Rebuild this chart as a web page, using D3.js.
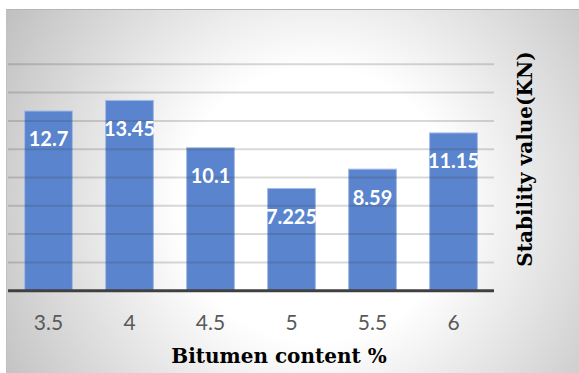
<!DOCTYPE html>
<html>
<head>
<meta charset="utf-8">
<script src="https://cdn.jsdelivr.net/npm/d3@7"></script>
<style>
  html, body { margin: 0; padding: 0; background: #ffffff; }
  svg { display: block; }
</style>
</head>
<body>
<script>
// Marshall stability against bitumen content
const categories = ["3.5", "4", "4.5", "5", "5.5", "6"];
const stability = [12.7, 13.45, 10.1, 7.225, 8.59, 11.15];
const labels = ["12.7", "13.45", "10.1", "7.225", "8.59", "11.15"];
const yDomain = [0, 16];
const xTitle = "Bitumen content %";
const yTitle = "Stability value(KN)";

const W = 579, H = 373;
const svg = d3.select("body").append("svg").attr("width", W).attr("height", H);

// chart area with soft radial shading
const defs = svg.append("defs");
const grad = defs.append("radialGradient")
  .attr("id", "bg")
  .attr("gradientUnits", "userSpaceOnUse")
  .attr("cx", 316).attr("cy", 205).attr("r", 380);
grad.append("stop").attr("offset", 0).attr("stop-color", "#ffffff");
grad.append("stop").attr("offset", 0.36).attr("stop-color", "#ffffff");
grad.append("stop").attr("offset", 1).attr("stop-color", "#bcbcbc");

svg.append("rect")
  .attr("x", 6).attr("y", 9).attr("width", W - 6).attr("height", H - 9)
  .attr("fill", "url(#bg)");
svg.append("line")
  .attr("x1", 6).attr("x2", W).attr("y1", 9.5).attr("y2", 9.5)
  .attr("stroke", "#b4b4b4").attr("stroke-width", 1);
svg.append("line")
  .attr("x1", 6.5).attr("x2", 6.5).attr("y1", 9).attr("y2", H)
  .attr("stroke", "#c0c0c0").attr("stroke-width", 1);

const plot = { left: 8, right: 494, top: 64.3, bottom: 290.7 };

const x = d3.scaleBand()
  .domain(categories)
  .range([plot.left, plot.right])
  .paddingInner(0.41)
  .paddingOuter(0.205);

const y = d3.scaleLinear().domain(yDomain).range([plot.bottom, plot.top]);

const data = categories.map((c, i) => ({ c, v: stability[i], label: labels[i] }));

// bars
svg.append("g").selectAll("rect")
  .data(data)
  .join("rect")
  .attr("x", d => x(d.c))
  .attr("y", d => y(d.v))
  .attr("width", x.bandwidth())
  .attr("height", d => y(0) - y(d.v))
  .attr("fill", "#5a84cd")
  .attr("stroke", "#a4bbe6")
  .attr("stroke-width", 1);

// horizontal gridlines, drawn over the bars
svg.append("g").selectAll("line")
  .data(d3.range(2, yDomain[1] + 1, 2))
  .join("line")
  .attr("x1", plot.left).attr("x2", plot.right)
  .attr("y1", d => y(d)).attr("y2", d => y(d))
  .attr("stroke", "rgba(60,60,60,0.2)")
  .attr("stroke-width", 2);

// category axis line
svg.append("line")
  .attr("x1", plot.left).attr("x2", plot.right)
  .attr("y1", y(0)).attr("y2", y(0))
  .attr("stroke", "#404040").attr("stroke-width", 3);

// value labels inside the top of each bar
svg.append("g").selectAll("text")
  .data(data)
  .join("text")
  .attr("x", d => x(d.c) + x.bandwidth() / 2)
  .attr("y", d => y(d.v) + 35.5)
  .attr("text-anchor", "middle")
  .attr("font-family", "Lato, 'Open Sans', sans-serif")
  .attr("font-weight", "bold")
  .attr("font-size", 20)
  .attr("fill", "#ffffff")
  .text(d => d.label);

// category tick labels
const xAxis = d3.axisBottom(x).tickSize(0).tickPadding(0);
const gx = svg.append("g")
  .attr("transform", `translate(0,${y(0)})`)
  .call(xAxis);
gx.select(".domain").remove();
gx.selectAll("text")
  .attr("y", 0)
  .attr("dy", 0)
  .attr("transform", "translate(0,38.8)")
  .attr("font-family", "Lato, 'Open Sans', sans-serif")
  .attr("font-size", 21)
  .attr("fill", "#595959");

// axis titles
svg.append("text")
  .attr("x", 279).attr("y", 363)
  .attr("text-anchor", "middle")
  .attr("font-family", "'DejaVu Serif', 'Liberation Serif', serif")
  .attr("font-weight", "bold")
  .attr("font-size", 20)
  .attr("fill", "#000000")
  .text(xTitle);

svg.append("text")
  .attr("transform", "translate(532,159) rotate(-90)")
  .attr("text-anchor", "middle")
  .attr("font-family", "'DejaVu Serif', 'Liberation Serif', serif")
  .attr("font-weight", "bold")
  .attr("font-size", 20)
  .attr("fill", "#000000")
  .text(yTitle);
</script>
</body>
</html>
